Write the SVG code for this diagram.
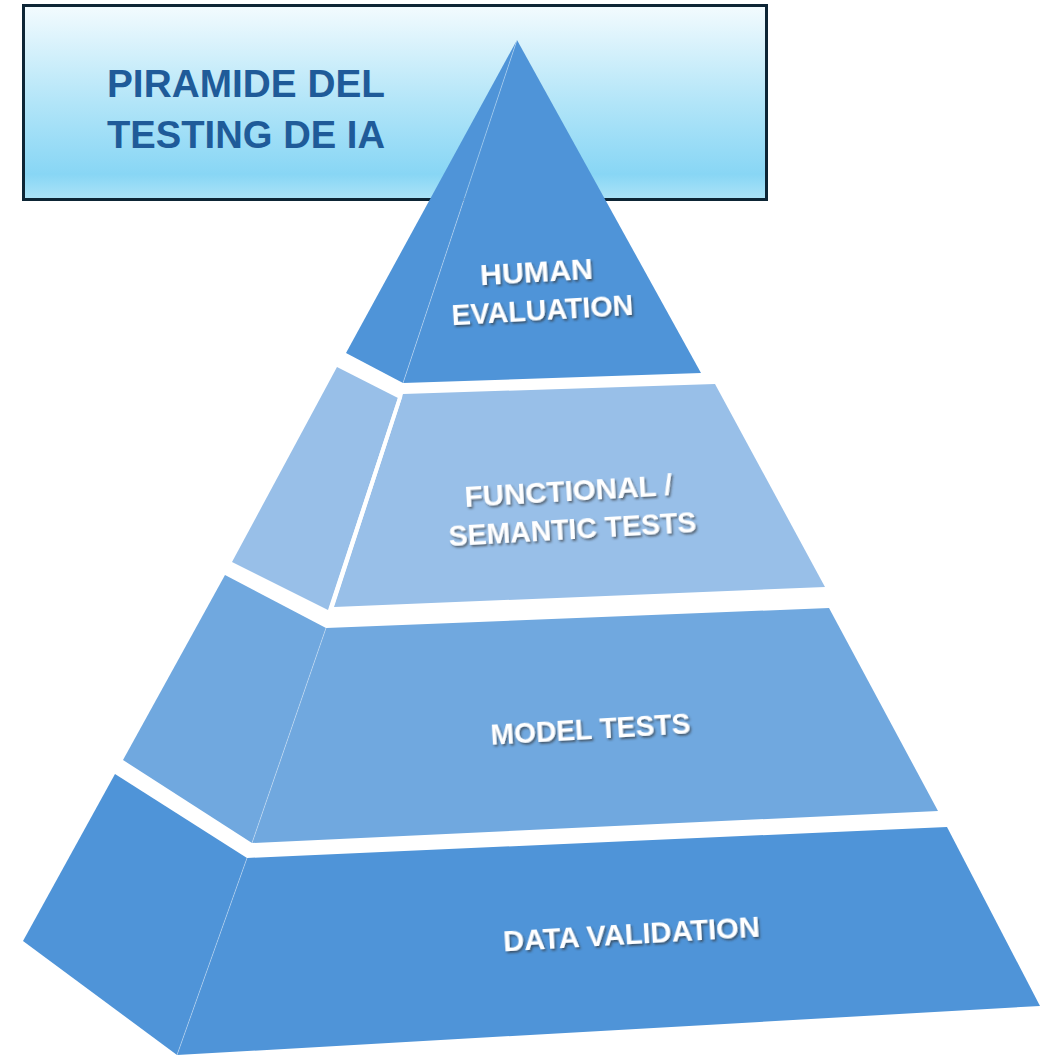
<svg xmlns="http://www.w3.org/2000/svg" width="1040" height="1055" viewBox="0 0 1040 1055">
<defs>
<linearGradient id="titleGrad" x1="0" y1="0" x2="0" y2="1">
<stop offset="0" stop-color="#f3fbfe"/>
<stop offset="0.5" stop-color="#b2e5f8"/>
<stop offset="0.87" stop-color="#88d6f5"/>
<stop offset="1" stop-color="#ace3f7"/>
</linearGradient>
<filter id="shadow" x="-10%" y="-30%" width="120%" height="160%">
<feDropShadow dx="1.5" dy="2" stdDeviation="1" flood-color="#333333" flood-opacity="0.65"/>
</filter>
</defs>
<style>
.title{font-family:"Liberation Sans",Arial,sans-serif;font-weight:bold;font-size:39px;fill:#1f5b99}
.lbl{font-family:"Liberation Sans",Arial,sans-serif;font-weight:bold;font-size:30px;fill:#ffffff;text-anchor:middle;filter:url(#shadow)}
.seam{stroke:#ffffff;stroke-opacity:0.35;stroke-width:1;fill:none}
.gap{stroke:#ffffff;stroke-width:4;fill:none}
.t1{fill:#4f94d8}
.t2{fill:#98bfe8}
.t3{fill:#70a8df}
.t4{fill:#4f94d8}
</style>
<rect width="1040" height="1055" fill="#ffffff"/>
<g id="title">
<rect x="23.5" y="5.5" width="743" height="194" fill="url(#titleGrad)" stroke="#0d2535" stroke-width="3"/>
<text class="title" x="107" y="97" textLength="278" lengthAdjust="spacingAndGlyphs">PIRAMIDE DEL</text>
<text class="title" x="107" y="148" textLength="278" lengthAdjust="spacingAndGlyphs">TESTING DE IA</text>
</g>
<g id="human-evaluation">
<polygon class="t1" points="517,40 346,353 403,383"/>
<polygon class="t1" points="517,40 701,373 403,383"/>
<line class="seam" x1="517" y1="40" x2="403" y2="383"/>
<text class="lbl" transform="translate(537,282) rotate(-3.3)" textLength="113" lengthAdjust="spacingAndGlyphs">HUMAN</text>
<text class="lbl" transform="translate(543,320) rotate(-3.3)" textLength="182" lengthAdjust="spacingAndGlyphs">EVALUATION</text>
</g>
<g id="functional-semantic-tests">
<polygon class="t2" points="337,367 398,398 328,610 232,562"/>
<polygon class="t2" points="403,394 715,384 825,587 334,607"/>
<line class="gap" x1="400.5" y1="396" x2="331" y2="608.5"/>
<text class="lbl" transform="translate(569,501) rotate(-3.3)" textLength="208" lengthAdjust="spacingAndGlyphs">FUNCTIONAL /</text>
<text class="lbl" transform="translate(573,539) rotate(-3.3)" textLength="248" lengthAdjust="spacingAndGlyphs">SEMANTIC TESTS</text>
</g>
<g id="model-tests">
<polygon class="t3" points="225,575 326,628 252,843 123,760"/>
<polygon class="t3" points="326,628 829,608 938,811 252,843"/>
<line class="seam" x1="326" y1="628" x2="252" y2="843"/>
<text class="lbl" transform="translate(591,739) rotate(-3.3)" textLength="200" lengthAdjust="spacingAndGlyphs">MODEL TESTS</text>
</g>
<g id="data-validation">
<polygon class="t4" points="115,774 247,858 177,1055 23,941"/>
<polygon class="t4" points="247,858 947,827 1040,1006 177,1055"/>
<line class="seam" x1="247" y1="858" x2="177" y2="1055"/>
<text class="lbl" transform="translate(632,944) rotate(-3.3)" textLength="257" lengthAdjust="spacingAndGlyphs">DATA VALIDATION</text>
</g>
<g id="connectors"/>
</svg>
